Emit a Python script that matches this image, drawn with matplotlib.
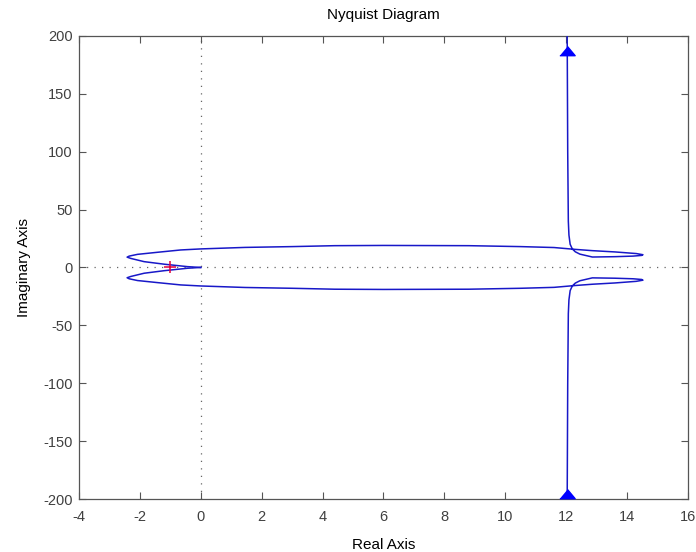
import numpy as np
import matplotlib
matplotlib.use("Agg")
import matplotlib.pyplot as plt

# upper half of the Nyquist contour, traced from the +j infinity asymptote
# down to the origin; the lower half is its mirror image
re_upper = [12.03, 12.05, 12.07, 12.09, 12.13, 12.2,
            12.3, 12.45, 12.86, 13.6, 14.2, 14.48, 14.52,
            14.3, 13.6, 12.86, 12.3, 11.6, 10.5, 8.8, 6.0, 4.4, 3.0, 1.45,
            0.0, -0.66, -1.42, -2.08, -2.35, -2.42,
            -2.3, -1.86, -1.2, -0.44, -0.2, 0.0]
im_upper = [215.0, 100.0, 40.0, 28.0, 20.0, 16.0,
            13.5, 11.5, 9.0, 9.3, 9.8, 10.4, 11.0,
            12.0, 13.4, 14.5, 15.6, 17.2, 18.0, 18.8, 19.0, 18.8, 18.0, 17.3,
            16.0, 15.1, 13.1, 11.3, 9.8, 8.9,
            7.8, 5.0, 2.8, 0.7, 0.3, 0.0]

# direction arrows on the asymptote
arrow_re = [12.03, 12.03]
arrow_im = [187.0, -196.0]

crit_re, crit_im = -1.0, 0.0

xticks = np.arange(-4, 17, 2)
yticks = np.arange(-200, 201, 50)

plt.rcParams['font.family'] = ['Liberation Sans', 'DejaVu Sans']
plt.rcParams['axes.unicode_minus'] = False

fig = plt.figure(figsize=(6.96, 5.52), dpi=100)
ax = fig.add_axes([0.1135, 0.096, 0.875, 0.839])

re_upper = np.array(re_upper)
im_upper = np.array(im_upper)
line_col = '#1818c8'
ax.plot(re_upper, im_upper, color=line_col, lw=1.1, zorder=3)
ax.plot(re_upper, -im_upper, color=line_col, lw=1.1, zorder=3)

tri = [(-1.0, -0.55), (1.0, -0.55), (0.0, 0.65)]
ax.plot(arrow_re, arrow_im, ls='none', marker=tri, markersize=11,
        color='#0000ff', mec='#0000ff', zorder=4)

ax.plot([crit_re], [crit_im], ls='none', marker='+', markersize=9,
        mew=1.1, color='#e0003c', zorder=5)

ax.axhline(0, color='#666666', ls=(0, (1, 5)), lw=0.9, zorder=1)
ax.axvline(0, color='#666666', ls=(0, (1, 5)), lw=0.9, zorder=1)

ax.set_xlim(-4, 16)
ax.set_ylim(-200, 200)
ax.set_xticks(xticks)
ax.set_yticks(yticks)
ax.tick_params(direction='in', length=5, width=0.8, color='#555555',
               labelsize=10.5, labelcolor='#404040', top=True, right=True)
ax.tick_params(axis='x', pad=8)
ax.tick_params(axis='y', pad=4.5)
for s in ax.spines.values():
    s.set_color('#555555')
    s.set_linewidth(0.9)

ax.set_title('Nyquist Diagram', fontsize=11, pad=12)
ax.set_xlabel('Real Axis', fontsize=11, labelpad=10)
ax.set_ylabel('Imaginary Axis', fontsize=11, labelpad=9)

fig.savefig('out.png', dpi=100)
